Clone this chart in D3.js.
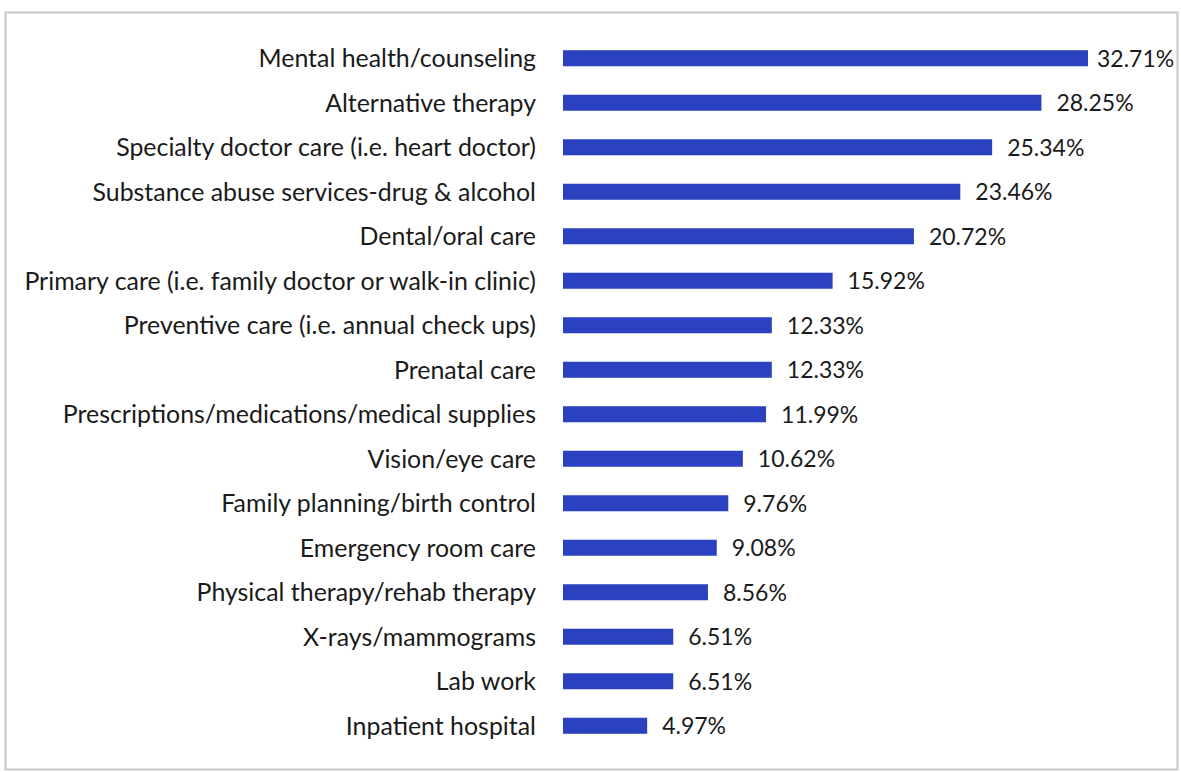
<!DOCTYPE html>
<html>
<head>
<meta charset="utf-8">
<script src="https://cdn.jsdelivr.net/npm/d3@7"></script>
<style>
  body { margin: 0; background: #fff; }
  text { font-family: Lato, "Noto Sans", sans-serif; fill: #1a1a1a; }
</style>
</head>
<body>
<div id="chart_div"></div>
<script>
const categories = [
    "Mental health/counseling",
    "Alternative therapy",
    "Specialty doctor care (i.e. heart doctor)",
    "Substance abuse services-drug & alcohol",
    "Dental/oral care",
    "Primary care (i.e. family doctor or walk-in clinic)",
    "Preventive care (i.e. annual check ups)",
    "Prenatal care",
    "Prescriptions/medications/medical supplies",
    "Vision/eye care",
    "Family planning/birth control",
    "Emergency room care",
    "Physical therapy/rehab therapy",
    "X-rays/mammograms",
    "Lab work",
    "Inpatient hospital"
];
const percentValues = [32.71, 28.25, 25.34, 23.46, 20.72, 15.92, 12.33, 12.33,
                       11.99, 10.62, 9.76, 9.08, 8.56, 6.51, 6.51, 4.97];

const width = 1181, height = 772;
const margin = {top: 36, right: 93, bottom: 24, left: 563};
const axisMax = 31; // plot area ends before the longest bar, so it gets cut off

const svg = d3.select("#chart_div")
    .append("svg")
    .attr("width", width)
    .attr("height", height);

// outer frame
svg.append("rect")
    .attr("x", 5.5).attr("y", 12.5)
    .attr("width", 1172).attr("height", 757)
    .attr("fill", "none")
    .attr("stroke", "#c8c8c8")
    .attr("stroke-width", 2);

let xScale = d3.scaleLinear()
    .domain([0, axisMax])
    .range([margin.left, width - margin.right])
    .clamp(true);

let yScale = d3.scaleBand()
    .domain(categories)
    .range([margin.top, height - margin.bottom])
    .paddingInner(0.64)
    .paddingOuter(0.32);

const rows = categories.map((c, i) => ({name: c, value: percentValues[i]}));

svg.append("g")
    .selectAll("rect")
    .data(rows)
    .join("rect")
    .attr("x", xScale(0))
    .attr("y", d => yScale(d.name))
    .attr("width", d => xScale(d.value) - xScale(0))
    .attr("height", yScale.bandwidth())
    .attr("fill", "#2a42c0");

// category labels
svg.append("g")
    .selectAll("text")
    .data(rows)
    .join("text")
    .attr("x", margin.left - 27)
    .attr("y", d => yScale(d.name) + yScale.bandwidth() / 2)
    .attr("dy", "0.36em")
    .attr("text-anchor", "end")
    .style("font-size", "24.9px")
    .text(d => d.name);

// value labels
svg.append("g")
    .selectAll("text")
    .data(rows)
    .join("text")
    .attr("x", d => xScale(d.value) + (d.value > axisMax ? 9 : 15))
    .attr("y", d => yScale(d.name) + yScale.bandwidth() / 2)
    .attr("dy", "0.36em")
    .style("font-size", "23px")
    .text(d => d.value.toFixed(2) + "%");
</script>
</body>
</html>
